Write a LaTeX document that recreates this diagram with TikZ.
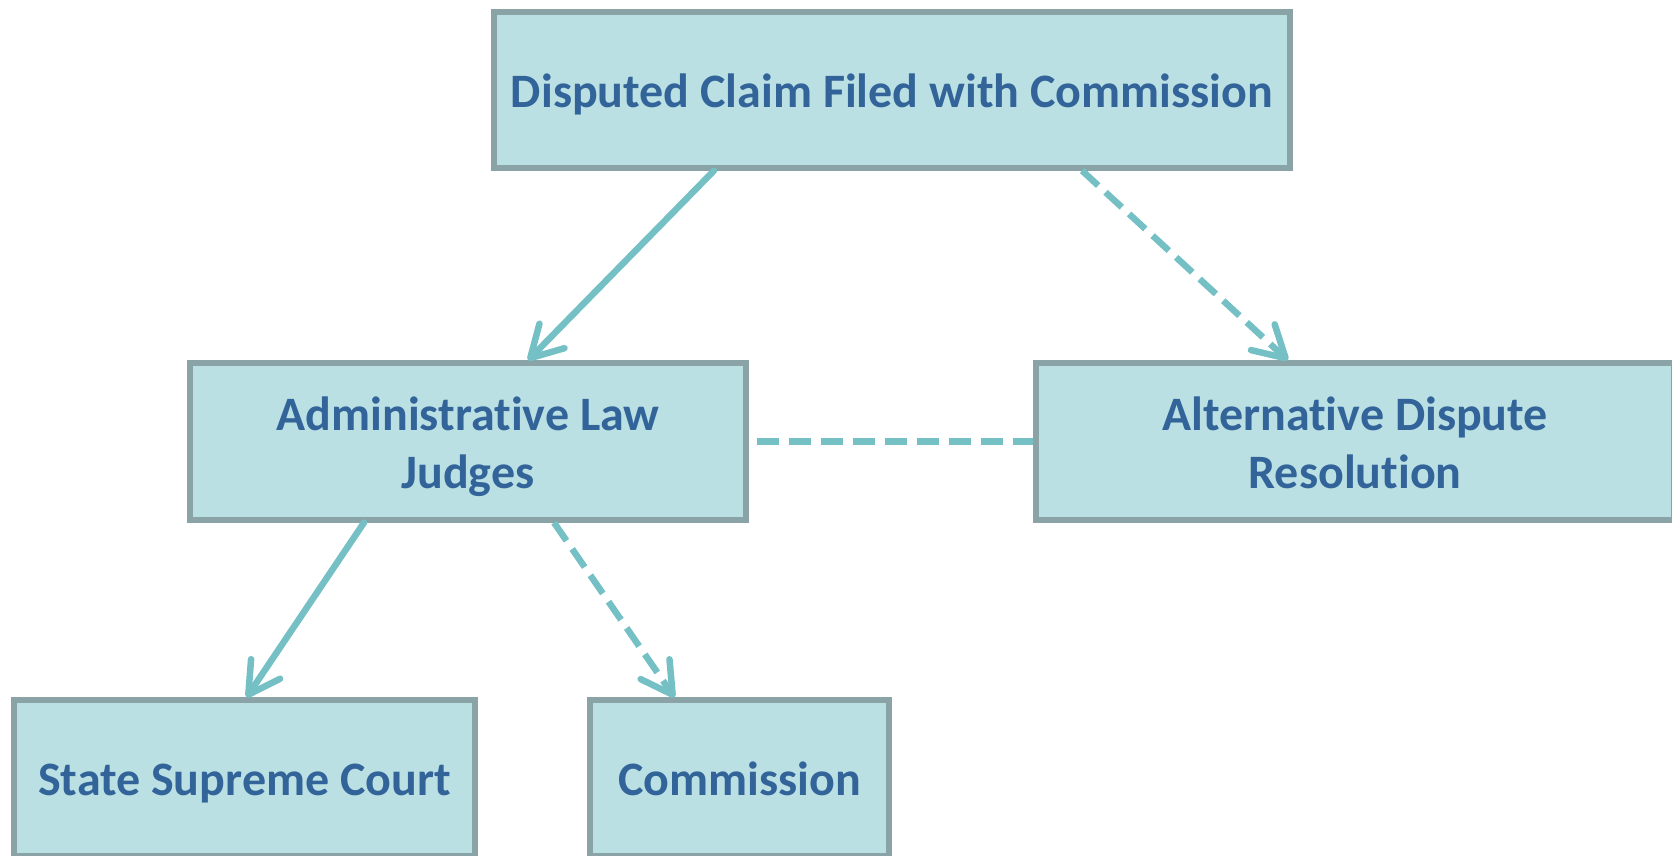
\documentclass[tikz,border=0pt]{standalone}
\usepackage{fontspec}
\setmainfont{Carlito}[Ligatures=NoCommon]
\usetikzlibrary{arrows.meta}
\definecolor{boxfill}{RGB}{187,224,227}
\definecolor{boxline}{RGB}{137,163,166}
\definecolor{boxtext}{RGB}{50,100,154}
\definecolor{flow}{RGB}{116,192,197}
% label text, set a little below the box centre
\newcommand\stagetext[1]{\raisebox{-6pt}[\height][\depth]{\begin{tabular}{@{}c@{}}#1\end{tabular}}}
\tikzset{
  stage/.style={draw=boxline, line width=5.2pt, fill=boxfill, rectangle,
    inner sep=0pt, align=center, text=boxtext,
    font=\fontsize{48}{58}\selectfont\bfseries},
  link/.style={draw=flow, line width=6.5pt, line cap=round},
  dashlink/.style={link, line cap=butt, dash pattern=on 22pt off 10pt},
  tip/.style={-{Straight Barb[length=31pt,width=35pt,line width=6.5pt,round]}}
}
\begin{document}
\begin{tikzpicture}[x=1pt,y=-1pt]
\useasboundingbox (0,0) rectangle (1672,855);
\node[stage, minimum width=796pt, minimum height=156pt] (claim) at (892,90)
  {\stagetext{Disputed Claim Filed with Commission}};
\node[stage, minimum width=556pt, minimum height=157pt] (alj) at (468,441.5)
  {\stagetext{Administrative Law\\Judges}};
\node[stage, minimum width=638pt, minimum height=157pt] (adr) at (1355,441.5)
  {\stagetext{Alternative Dispute\\Resolution}};
\node[stage, minimum width=461pt, minimum height=156pt] (court) at (244.5,778)
  {\stagetext{State Supreme Court}};
\node[stage, minimum width=299pt, minimum height=156pt] (comm) at (739.5,778)
  {\stagetext{Commission}};

\draw[link, tip] ([xshift=-178pt]claim.south) -- ([xshift=60pt]alj.north);
\draw[dashlink, tip] ([xshift=190pt]claim.south) -- ([xshift=-67pt]adr.north);
\draw[dashlink] ([xshift=8pt]alj.east) -- (adr.west);
\draw[link, tip] ([xshift=-104pt]alj.south) -- ([xshift=2pt]court.north);
\draw[dashlink, tip] ([xshift=86pt]alj.south) -- ([xshift=-65pt]comm.north);
\end{tikzpicture}
\end{document}
